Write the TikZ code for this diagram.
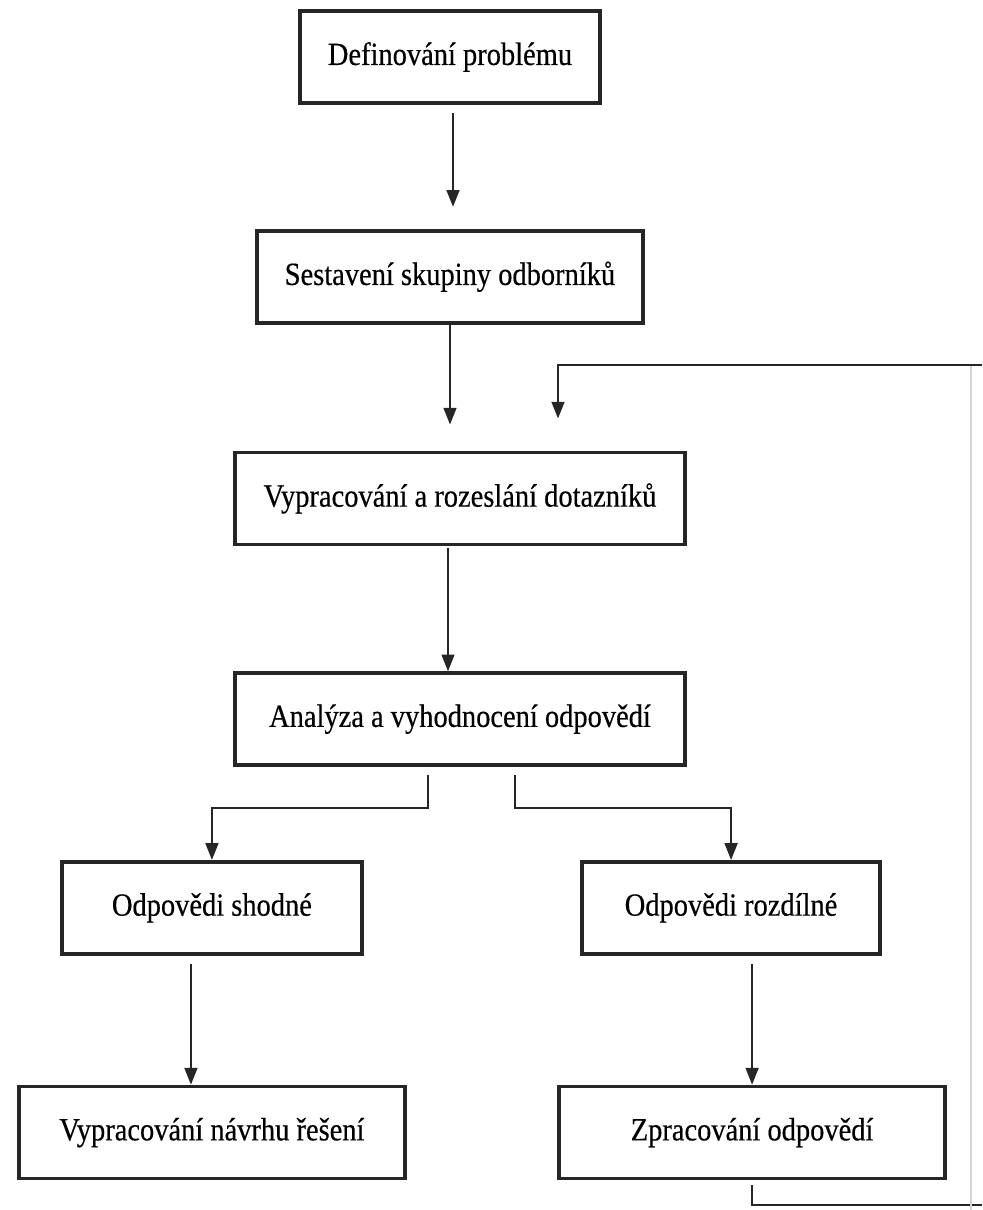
\documentclass[tikz,border=0pt]{standalone}
\usepackage{fontspec}
\setmainfont{Liberation Serif}[FakeStretch=0.88, FakeBold=0.4]
\usepackage{tikz}
\usetikzlibrary{arrows.meta, positioning, calc}
\definecolor{ink}{RGB}{38, 38, 38}
\definecolor{faint}{RGB}{212, 212, 212}

\begin{document}
\begin{tikzpicture}[
    x=0.025cm, y=-0.025cm,
    stepbox/.style={rectangle, draw=ink, line width=2.6pt, fill=white, align=center, minimum height=2.3cm, inner sep=0pt, font=\fontsize{23}{27}\selectfont},
    arrow/.style={-{Triangle[length=4.2mm, width=3.2mm]}, line width=1.5pt, color=ink},
    link/.style={line width=1.5pt, color=ink},
    faintline/.style={line width=1pt, color=faint}
]
    \useasboundingbox (0,0) rectangle (982,1210);

    \node [stepbox, minimum width=7.5cm] (defin) at (450,57) {Definování problému};
    \node [stepbox, minimum width=9.65cm, below=3.1cm of defin] (sest) {Sestavení skupiny odborníků};
    \node [stepbox, minimum width=11.25cm, below=3.15cm of sest, xshift=0.25cm] (dotaz) {Vypracování a rozeslání dotazníků};
    \node [stepbox, minimum width=11.25cm, below=3.125cm of dotaz] (anal) {Analýza a vyhodnocení odpovědí};
    \node [stepbox, minimum width=7.5cm, below=2.325cm of anal, xshift=-6.2cm] (shod) {Odpovědi shodné};
    \node [stepbox, minimum width=7.45cm, below=2.325cm of anal, xshift=6.775cm] (rozd) {Odpovědi rozdílné};
    \node [stepbox, minimum width=9.65cm, below=3.225cm of shod] (navrh) {Vypracování návrhu řešení};
    \node [stepbox, minimum width=9.65cm, below=3.225cm of rozd, xshift=0.525cm] (zprac) {Zpracování odpovědí};

    \coordinate (s1) at ($(defin.south)+(3,0)$);
    \coordinate (s3) at ($(dotaz.south)+(-12,0)$);
    \coordinate (s5) at ($(shod.south)+(-21,0)$);

    \draw [arrow, shorten <=0.2cm, shorten >=0.55cm] (s1) -- (s1 |- sest.north);
    \draw [arrow, shorten >=0.65cm] (sest.south) -- (sest.south |- dotaz.north);
    \draw [arrow, shorten <=0.05cm] (s3) -- (s3 |- anal.north);

    % branches
    \draw [arrow, shorten <=0.2cm] ($(anal.south)+(-32,0)$) -- ++(0,41) -| (shod.north);
    \draw [arrow, shorten <=0.2cm] ($(anal.south)+(55,0)$) -- ++(0,41) -| (rozd.north);
    \draw [arrow, shorten <=0.22cm] (s5) -- (s5 |- navrh.north);
    \draw [arrow, shorten <=0.22cm] (zprac.north |- rozd.south) -- (zprac.north);

    % feedback
    \coordinate (fbSE) at (982,1205);
    \coordinate (fbNE) at (982,365);
    \coordinate (fbIn) at ($(dotaz.north)+(98,0)$);
    \draw [link, shorten <=0.12cm] (zprac.south) |- (fbSE);
    \draw [faintline] ($(fbNE)+(-11,0)$) -- ($(fbSE)+(-11,5)$);
    \draw [arrow, shorten >=0.8cm] (fbNE) -| (fbIn);

\end{tikzpicture}
\end{document}
